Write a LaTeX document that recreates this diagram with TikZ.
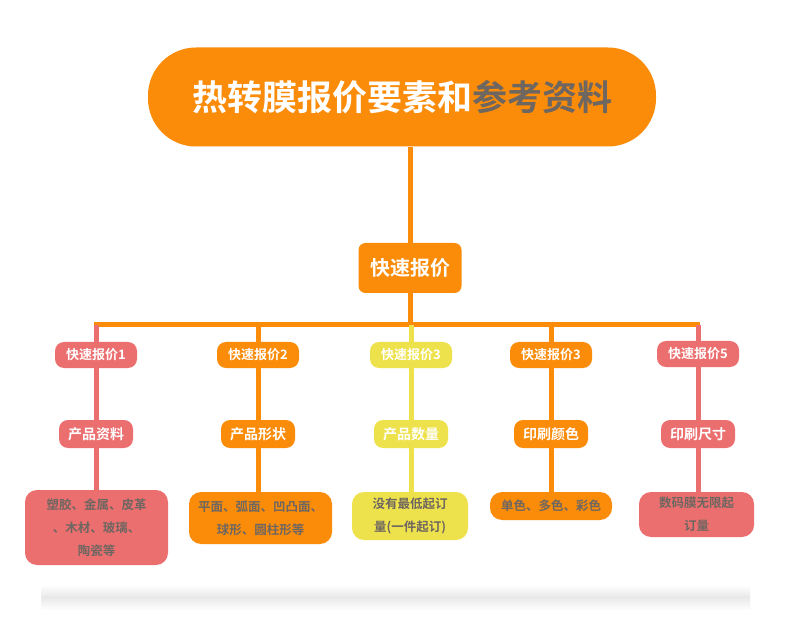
\documentclass[tikz,border=0pt]{standalone}
\usepackage{fontspec}
\setmainfont{Noto Sans CJK SC}[BoldFont={Noto Sans CJK SC Bold}]
\usetikzlibrary{positioning}
\definecolor{org}{HTML}{FA8C0A}
\definecolor{pnk}{HTML}{EC6F70}
\definecolor{yel}{HTML}{EEE24C}
\definecolor{txg}{HTML}{6E6660}
\begin{document}
\begin{tikzpicture}[x=1pt,y=-1pt,
  lbl/.style={rounded corners=9pt,text=white,font=\bfseries\fontsize{13}{14}\selectfont,inner sep=0pt,minimum height=26pt,minimum width=82pt},
  bot/.style={rounded corners=12pt,text=txg,font=\bfseries\fontsize{12.5}{23}\selectfont,inner sep=0pt,align=center},
  ln/.style={line width=5pt}]
\useasboundingbox (0,0) rectangle (790,644);
\fill[white] (0,0) rectangle (790,644);
\shade[top color=white,bottom color=black!9] (40,585) rectangle (750,597);
\shade[top color=black!9,bottom color=white] (40,597) rectangle (750,610);
\shade[left color=white,right color=white!0,opacity=1] (40,584) rectangle (41,611);
% lines
\draw[org,ln] (410,147) -- (410,243);
\draw[org,ln] (410,293) -- (410,325);
\draw[org,ln] (94,325) -- (700,325);
\draw[pnk,ln] (96,325) -- (96,490);
\draw[org,ln] (258,325) -- (258,492);
\draw[yel,ln] (411,325) -- (411,492);
\draw[org,ln] (551,325) -- (551,492);
\draw[pnk,ln] (698,325) -- (698,492);
% title
\node[fill=org,rounded corners=48pt,minimum width=508pt,minimum height=99pt,inner sep=0pt,font=\bfseries\fontsize{35}{38}\selectfont] (title) at (402,97) {\textcolor{white}{热转膜报价要素和}\textcolor{txg}{参考资料}};
\node[fill=org,rounded corners=7pt,minimum width=103pt,minimum height=50pt,inner sep=0pt,text=white,font=\bfseries\fontsize{20}{22}\selectfont] (q) at (410,268) {快速报价};
% level 1
\node[lbl,fill=pnk] (a1) at (96,355) {快速报价1};
\node[lbl,fill=org] (b1) at (258,355) {快速报价2};
\node[lbl,fill=yel] (c1) at (411,355) {快速报价3};
\node[lbl,fill=org] (d1) at (551,355) {快速报价3};
\node[lbl,fill=pnk] (e1) at (698,354) {快速报价5};
% level 2
\node[lbl,fill=pnk,minimum width=74pt,minimum height=28pt,font=\bfseries\fontsize{14}{15}\selectfont] (a2) at (96,434) {产品资料};
\node[lbl,fill=org,minimum width=74pt,minimum height=28pt,font=\bfseries\fontsize{14}{15}\selectfont] (b2) at (258,434) {产品形状};
\node[lbl,fill=yel,minimum width=74pt,minimum height=28pt,font=\bfseries\fontsize{14}{15}\selectfont] (c2) at (411,434) {产品数量};
\node[lbl,fill=org,minimum width=74pt,minimum height=28pt,font=\bfseries\fontsize{14}{15}\selectfont] (d2) at (551,434) {印刷颜色};
\node[lbl,fill=pnk,minimum width=74pt,minimum height=28pt,font=\bfseries\fontsize{14}{15}\selectfont] (e2) at (698,434) {印刷尺寸};
% bottom
\node[bot,fill=pnk,minimum width=143pt,minimum height=75pt] (a3) at (96.5,527.5) {塑胶、金属、皮革\\、木材、玻璃、\\陶瓷等};
\node[bot,fill=org,minimum width=143pt,minimum height=52pt] (b3) at (260.5,518) {平面、弧面、凹凸面、\\球形、圆柱形等};
\node[bot,fill=yel,minimum width=116pt,minimum height=48pt] (c3) at (410,516) {没有最低起订\\量(一件起订)};
\node[bot,fill=org,minimum width=122pt,minimum height=28pt] (d3) at (551,506) {单色、多色、彩色};
\node[bot,fill=pnk,minimum width=115pt,minimum height=45pt] (e3) at (696.5,514.5) {数码膜无限起\\订量};
\end{tikzpicture}
\end{document}
